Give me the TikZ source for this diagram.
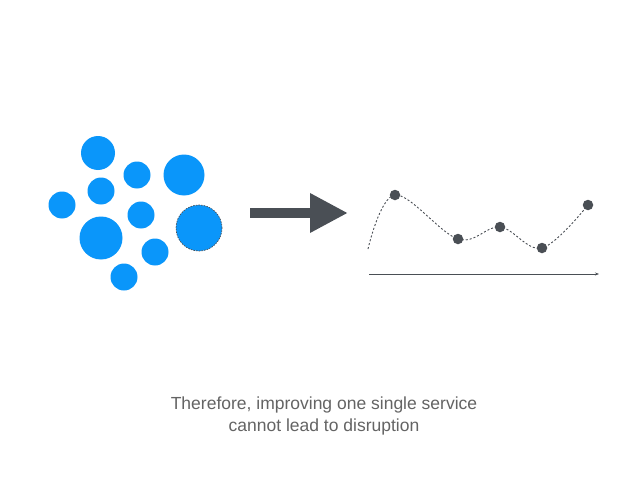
\documentclass[tikz,border=0pt]{standalone}
\usepackage{fontspec}
\setmainfont{Liberation Sans}
\usetikzlibrary{arrows.meta}
\definecolor{blu}{RGB}{10,150,250}
\definecolor{dk}{RGB}{74,79,85}
\definecolor{txt}{RGB}{100,100,100}
\begin{document}
\begin{tikzpicture}[x=1pt,y=-1pt,
  bub/.style={circle,fill=blu,inner sep=0pt,minimum size=#1},
  dot/.style={circle,fill=dk,inner sep=0pt,minimum size=10.5pt}]
\useasboundingbox[fill=white] (0,0) rectangle (638,479);
% bubbles
\node[bub=34pt] (b1) at (98,153) {};
\node[bub=27pt] (b2) at (137,175) {};
\node[bub=41pt] (b3) at (184,175) {};
\node[bub=27pt] (b4) at (101,191) {};
\node[bub=27pt] (b5) at (62,205) {};
\node[bub=27pt] (b6) at (141,215) {};
\node[bub=43pt] (b7) at (101,238) {};
\node[bub=27pt] (b8) at (155,252) {};
\node[bub=27pt] (b9) at (124,277) {};
\node[bub=46pt,draw=dk,line width=0.7pt,dash pattern=on 1.5pt off 1.2pt] (b10) at (199,228) {};
% big arrow
\coordinate (a0) at (250,213);
\coordinate (a1) at (348,213);
\draw[dk,line width=10pt,-{Triangle[length=38pt,width=37pt]}] (a0) -- (a1);
% graph
\coordinate (s) at (368,249);
\node[dot] (p1) at (395,195) {};
\node[dot] (p2) at (458,239) {};
\node[dot] (p3) at (500,227) {};
\node[dot] (p4) at (542,248) {};
\node[dot] (p5) at (588,205) {};
\draw[dk,line width=0.9pt,dash pattern=on 2pt off 2pt] plot[smooth,tension=0.6] coordinates {(s) (p1.center) (p2.center) (p3.center) (p4.center) (p5.center)};
\coordinate (x0) at (369,274);
\coordinate (x1) at (599,274);
\draw[dk,line width=0.8pt,-{Stealth[length=4pt,width=3pt]}] (x0) -- (x1);
% caption
\node[txt,font=\fontsize{17.5}{22}\selectfont,align=center] (cap) at (324,416) {Therefore, improving one single service\\cannot lead to disruption};
\end{tikzpicture}
\end{document}
